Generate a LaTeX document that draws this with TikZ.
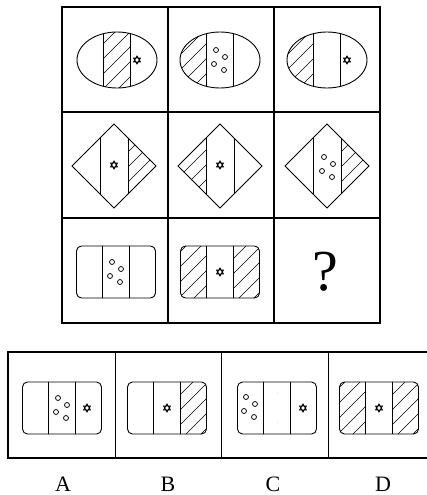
\documentclass[tikz,border=0pt]{standalone}
\usepackage{fontspec}
\setmainfont{Liberation Serif}
\usepackage{tikz}
\usetikzlibrary{positioning}
% figure outlines, one unit = one pixel, y downwards
\newcommand{\shpoval}{(0,0) ellipse [x radius=40, y radius=28]}
\newcommand{\shpdiam}{(-42,0) -- (0,-42) -- (42,0) -- (0,42) -- cycle}
\newcommand{\shprect}{[rounded corners=5pt] (-39.5,-26) rectangle (39.5,26)}
% #1 centre, #2 outline, #3 half third, #4 hatched strips, #5 contents
\newcommand{\panel}[5]{%
  \begin{scope}[shift={#1}]
    \begin{scope} \clip #2;
      \foreach \a/\b in {#4} {\begin{scope} \clip (\a,-50) rectangle (\b,50);
        \foreach \k in {-105,-90,...,105} \draw[hatch] (\k-50,50) -- (\k+50,-50); \end{scope}}
      \draw[fig] (-#3,-50) -- (-#3,50) (#3,-50) -- (#3,50);
    \end{scope}
    \draw[fig] #2; #5
  \end{scope}}
\tikzset{
  fig/.style={line width=0.9pt},
  hatch/.style={line width=0.6pt},
  frame/.style={line width=1.5pt},
  hexstar/.pic={\draw[line width=0.85pt] (90:4) -- (210:4) -- (330:4) -- cycle (270:4) -- (30:4) -- (150:4) -- cycle;},
  dotset/.pic={\foreach \dx/\dy in {-4/-9,5/-2,-6/5,4/11} \draw[line width=0.75pt] (\dx,\dy) circle (2.5);},
}

\begin{document}
\begin{tikzpicture}[x=1pt,y=-1pt]
  \useasboundingbox (0,0) rectangle (427,495);
  % question grid
  \draw[frame] (62,7) rectangle (380,323);
  \draw[frame] (168,7) -- (168,323) (274,7) -- (274,323) (62,112) -- (380,112) (62,218) -- (380,218);
  % row 1: ovals
  \panel{(117,60)}{\shpoval}{13.3}{-13.3/13.3}{\pic at (20,0) {hexstar};}
  \panel{(220,60)}{\shpoval}{13.3}{-50/-13.3}{\pic at (0,-1) {dotset};}
  \panel{(327,60)}{\shpoval}{13.3}{-50/-13.3}{\pic at (20,0) {hexstar};}
  % row 2: diamonds
  \panel{(114,166)}{\shpdiam}{14}{14/50}{\pic at (0,-1) {hexstar};}
  \panel{(220,166)}{\shpdiam}{14}{-50/-14}{\pic at (0,-1) {hexstar};}
  \panel{(327,166)}{\shpdiam}{14}{14/50}{\pic at (1,0) {dotset};}
  % row 3: rounded rectangles
  \panel{(116,272)}{\shprect}{13.2}{0/0}{\pic at (0,-1) {dotset};}
  \panel{(220,272)}{\shprect}{13.2}{-50/-13.2,13.2/50}{\pic at (0,0) {hexstar};}
  \node[font=\fontsize{58}{62}\selectfont] (qmark) at (325,272) {?};
  % answer row
  \draw[frame] (8,352) rectangle (436,458);
  \draw[frame] (115.7,352) -- (115.7,458) (221.7,352) -- (221.7,458) (328.3,352) -- (328.3,458);
  \panel{(62,408)}{\shprect}{13.2}{0/0}{\pic at (0,-1) {dotset}; \pic at (25,0) {hexstar};}
  \panel{(167,408)}{\shprect}{13.2}{13.2/50}{\pic at (0,0) {hexstar};}
  \panel{(277,408)}{\shprect}{13.2}{0/0}{\pic at (-27,-2) {dotset}; \pic at (26,0) {hexstar};}
  \panel{(379,408)}{\shprect}{13.2}{-50/-13.2,13.2/50}{\pic at (0,0) {hexstar};}
  \foreach \l/\x in {A/63,B/168,C/273,D/383} \node[font=\fontsize{22}{24}\selectfont] (lbl\l) at (\x,484) {\l};
\end{tikzpicture}
\end{document}
